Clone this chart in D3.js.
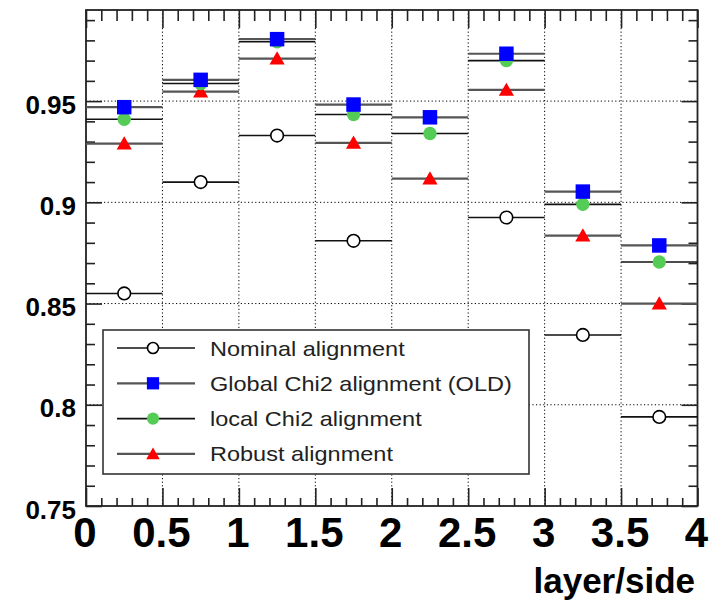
<!DOCTYPE html>
<html>
<head>
<meta charset="utf-8">
<script src="https://cdn.jsdelivr.net/npm/d3@7"></script>
<style>
  html, body { margin: 0; padding: 0; background: #fff; }
  svg { display: block; }
  text { font-family: "Liberation Sans", Arial, Helvetica, sans-serif; }
</style>
</head>
<body>
<svg id="chart" width="715" height="603"></svg>
<script>
// Efficiency per layer/side bin for each alignment configuration
const binCenters = [0.25, 0.75, 1.25, 1.75, 2.25, 2.75, 3.25, 3.75];
const binHalfWidth = 0.25;
const nominal = [0.855, 0.910, 0.933, 0.881, 0.820, 0.8925, 0.8345, 0.794];
const globalChi2 = [0.947, 0.9605, 0.9806, 0.9483, 0.942, 0.9734, 0.9053, 0.8787];
const localChi2 = [0.941, 0.9587, 0.9793, 0.9434, 0.934, 0.970, 0.899, 0.8705];
const robust = [0.929, 0.9547, 0.971, 0.9294, 0.9117, 0.9555, 0.8836, 0.850];

const seriesNames = ["Nominal alignment", "Global Chi2 alignment (OLD)", "local Chi2 alignment", "Robust alignment"];
const xMajorTicks = [0, 0.5, 1, 1.5, 2, 2.5, 3, 3.5, 4];
const yMajorTicks = [0.75, 0.8, 0.85, 0.9, 0.95];
const yTickLabels = ["0.75", "0.8", "0.85", "0.9", "0.95"];
const xTickLabels = ["0", "0.5", "1", "1.5", "2", "2.5", "3", "3.5", "4"];
const xTitle = "layer/side";

const svg = d3.select("#chart");
const L = 86, R = 697.5, T = 10, B = 506;

const x = d3.scaleLinear().domain([0, 4]).range([L, R]);
const y = d3.scaleLinear().domain([0.75, 0.995]).range([B, T]);

const xMinor = d3.range(0, 4.0001, 0.1).filter(v => Math.abs(v * 2 - Math.round(v * 2)) > 1e-6);
const yMinor = d3.range(0.75, 0.9951, 0.01).filter(v => Math.abs(v * 20 - Math.round(v * 20)) > 1e-6);

// dotted grid at the major ticks
const grid = svg.append("g").attr("stroke", "#000").attr("stroke-width", 1)
  .attr("stroke-dasharray", "1.2,2.4");
grid.selectAll("line.gx").data(xMajorTicks.slice(1, -1)).join("line")
  .attr("x1", d => x(d)).attr("x2", d => x(d)).attr("y1", T).attr("y2", B);
grid.selectAll("line.gy").data(yMajorTicks.slice(1)).join("line")
  .attr("y1", d => y(d)).attr("y2", d => y(d)).attr("x1", L).attr("x2", R);

// axes: ticks drawn inward on all four sides
function styleAxis(g) {
  g.select(".domain").remove();
  g.selectAll(".tick line").attr("stroke", "#222").attr("stroke-width", 1.6);
  g.selectAll("text").remove();
}
svg.append("g").attr("transform", `translate(0,${B})`)
  .call(d3.axisBottom(x).tickValues(xMajorTicks).tickSize(-18)).call(styleAxis);
svg.append("g").attr("transform", `translate(0,${B})`)
  .call(d3.axisBottom(x).tickValues(xMinor).tickSize(-8)).call(styleAxis);
svg.append("g").attr("transform", `translate(0,${T})`)
  .call(d3.axisTop(x).tickValues(xMajorTicks).tickSize(-18)).call(styleAxis);
svg.append("g").attr("transform", `translate(0,${T})`)
  .call(d3.axisTop(x).tickValues(xMinor).tickSize(-11)).call(styleAxis);
svg.append("g").attr("transform", `translate(${L},0)`)
  .call(d3.axisLeft(y).tickValues(yMajorTicks).tickSize(-16)).call(styleAxis);
svg.append("g").attr("transform", `translate(${L},0)`)
  .call(d3.axisLeft(y).tickValues(yMinor).tickSize(-9)).call(styleAxis);
svg.append("g").attr("transform", `translate(${R},0)`)
  .call(d3.axisRight(y).tickValues(yMajorTicks).tickSize(-16)).call(styleAxis);
svg.append("g").attr("transform", `translate(${R},0)`)
  .call(d3.axisRight(y).tickValues(yMinor).tickSize(-9)).call(styleAxis);

// frame
svg.append("rect").attr("x", L).attr("y", T).attr("width", R - L).attr("height", B - T)
  .attr("fill", "none").attr("stroke", "#222").attr("stroke-width", 1.8);

// tick labels
svg.append("g").selectAll("text").data(yMajorTicks).join("text")
  .attr("x", 76).attr("y", d => y(d) + 12.5)
  .attr("text-anchor", "end").attr("font-size", 26).attr("font-weight", "bold")
  .attr("fill", "#000")
  .text((d, i) => yTickLabels[i]);
svg.append("g").selectAll("text").data(xMajorTicks).join("text")
  .attr("x", d => x(d) - 1).attr("y", 547)
  .attr("text-anchor", "middle").attr("font-size", 42).attr("font-weight", "bold")
  .attr("fill", "#000")
  .text((d, i) => xTickLabels[i]);
svg.append("text").attr("x", 695).attr("y", 593).attr("text-anchor", "end")
  .attr("font-size", 35).attr("font-weight", "bold").attr("fill", "#000").text(xTitle);

// series styles
const series = [
  { name: seriesNames[0], values: nominal, line: "#111", lw: 1.6, shape: d3.symbolCircle, size: 125, fill: "#fff", stroke: "#000", sw: 1.6, lsize: 95 },
  { name: seriesNames[1], values: globalChi2, line: "#555", lw: 2.2, shape: d3.symbolSquare, size: 210, fill: "#0000ff", stroke: "none", sw: 0, lsize: 150 },
  { name: seriesNames[2], values: localChi2, line: "#111", lw: 1.6, shape: d3.symbolCircle, size: 140, fill: "#55cc55", stroke: "none", sw: 0, lsize: 115 },
  { name: seriesNames[3], values: robust, line: "#555", lw: 2.2, shape: d3.symbolTriangle, size: 100, fill: "#ff0000", stroke: "none", sw: 0, lsize: 80 }
];

// draw order: nominal, robust, local, global (global on top)
const drawOrder = [0, 3, 2, 1];
const plot = svg.append("g");
drawOrder.forEach(k => {
  const s = series[k];
  const pts = binCenters.map((c, i) => ({ c, v: s.values[i] }));
  const g = plot.append("g");
  g.selectAll("line").data(pts).join("line")
    .attr("x1", d => x(d.c - binHalfWidth)).attr("x2", d => x(d.c + binHalfWidth))
    .attr("y1", d => y(d.v)).attr("y2", d => y(d.v))
    .attr("stroke", s.line).attr("stroke-width", s.lw);
  g.selectAll("path").data(pts).join("path")
    .attr("d", d3.symbol().type(s.shape).size(s.size))
    .attr("transform", d => `translate(${x(d.c)},${y(d.v) + (s.shape === d3.symbolTriangle ? 1.5 : 0)})`)
    .attr("fill", s.fill).attr("stroke", s.stroke).attr("stroke-width", s.sw);
});

// legend
const lg = svg.append("g");
lg.append("rect").attr("x", 103).attr("y", 330).attr("width", 426).attr("height", 144)
  .attr("fill", "#fff").attr("stroke", "#333").attr("stroke-width", 1.6);
series.forEach((s, i) => {
  const ey = 348 + i * 35.3;
  lg.append("line").attr("x1", 117).attr("x2", 195).attr("y1", ey).attr("y2", ey)
    .attr("stroke", s.line).attr("stroke-width", s.lw);
  lg.append("path").attr("d", d3.symbol().type(s.shape).size(s.lsize))
    .attr("transform", `translate(153,${ey + (s.shape === d3.symbolTriangle ? 1.5 : 0)})`)
    .attr("fill", s.fill).attr("stroke", s.stroke).attr("stroke-width", s.sw);
  lg.append("text").attr("transform", `translate(210,${ey + 7.5}) scale(1.12,1)`)
    .attr("font-size", 21).attr("fill", "#222").text(s.name);
});
</script>
</body>
</html>
